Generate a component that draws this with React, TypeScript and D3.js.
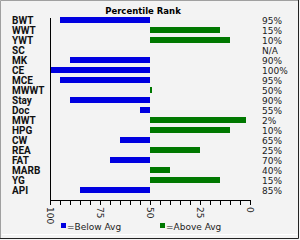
import * as d3 from 'd3'

const categories = ['BWT', 'WWT', 'YWT', 'SC', 'MK', 'CE', 'MCE', 'MWWT', 'Stay', 'Doc', 'MWT', 'HPG', 'CW', 'REA', 'FAT', 'MARB', 'YG', 'API']
// percentile shown by the bar (null = no data)
const barValues: (number | null)[] = [95, 15, 10, null, 90, 100, 95, 49, 90, 55, 2, 10, 65, 25, 70, 40, 15, 85]
const rankLabels = ['95%', '15%', '10%', 'N/A', '90%', '100%', '95%', '50%', '90%', '55%', '2%', '10%', '65%', '25%', '70%', '40%', '15%', '85%']
const tickLabels = [100, 75, 50, 25, 0]
const minorTicks = d3.range(0, 101, 5)

const W = 300
const H = 240
const BLUE = '#0000e0'
const GREEN = '#007800'

export default function App() {
  const x = d3.scaleLinear().domain([100, 0]).range([50, 250])
  const y = d3.scaleBand<string>().domain(categories).range([15, 195]).paddingInner(0.4).paddingOuter(0.2)
  const axisY = 200
  const mid = x(50)

  return (
    <svg width={W} height={H} style={{ position: 'fixed', left: 0, top: 0 }}
      fontFamily="'DejaVu Sans', sans-serif">
      <rect x={0} y={0} width={W} height={H} fill="#f3f3f3" />
      {/* frame */}
      <path d={`M0.5,${H - 1} V0.5 H${W - 1}`} fill="none" stroke="#a0a0a0" />
      <path d={`M${W - 1.5},0 V${H - 1.5} H0`} fill="none" stroke="#222" />
      <line x1={2} x2={W - 3} y1={234.5} y2={234.5} stroke="#ffffff" />

      <text x={143} y={14} textAnchor="middle" fontSize={8.5} fontWeight="bold" fill="#000">Percentile Rank</text>

      {categories.map((c, i) => {
        const v = barValues[i]
        const cy = (y(c) ?? 0) + y.bandwidth() / 2
        return (
          <g key={c}>
            <text x={12} y={cy + 3.5} fontFamily="Roboto, sans-serif" fontWeight="bold" fontSize={10} fill="#111">{c}</text>
            {v !== null && (
              <rect
                x={Math.min(x(v), mid)}
                y={y(c)}
                width={Math.abs(x(v) - mid)}
                height={y.bandwidth()}
                fill={v >= 50 ? BLUE : GREEN}
              />
            )}
            <text x={262} y={cy + 3.5} fontSize={9} fill="#222">{rankLabels[i]}</text>
          </g>
        )
      })}

      {/* axes */}
      <line x1={x(100) + 0.5} x2={x(100) + 0.5} y1={18} y2={axisY + 4} stroke="#000" />
      <line x1={x(100)} x2={x(0) + 1} y1={axisY + 0.5} y2={axisY + 0.5} stroke="#000" />
      {minorTicks.map(t => (
        <line key={t} x1={Math.round(x(t)) + 0.5} x2={Math.round(x(t)) + 0.5} y1={axisY} y2={axisY + 5} stroke="#000" />
      ))}
      {tickLabels.map(t => (
        <text key={t} transform={`translate(${x(t) - 3},207) rotate(90)`} fontSize={9} fill="#222">{t}</text>
      ))}

      {/* legend */}
      <rect x={61} y={223} width={5} height={5} fill={BLUE} />
      <text x={67} y={230} fontSize={9} fill="#222">=Below Avg</text>
      <rect x={160} y={223} width={5} height={5} fill={GREEN} />
      <text x={166} y={230} fontSize={9} fill="#222">=Above Avg</text>
    </svg>
  )
}
